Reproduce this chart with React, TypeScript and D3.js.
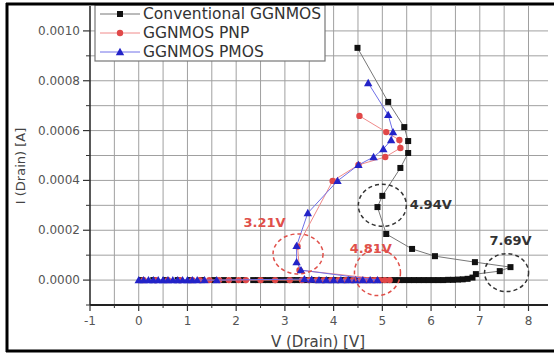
import React from "react";
import * as d3 from "d3";

// ---------- data ----------
const convV = [0.05, 0.3, 0.55, 0.8, 1.05, 1.3, 1.55, 1.75, 1.95, 2.15, 2.35, 2.45, 2.55, 2.65, 2.75, 2.85, 2.95, 3.05, 3.15, 3.25, 3.35, 3.45, 3.55, 3.65, 3.75, 3.85, 3.95, 4.05, 4.15, 4.25, 4.35, 4.45, 4.55, 4.65, 4.75, 4.85, 4.95, 5.05, 5.15, 5.25, 5.35, 5.45, 5.55, 5.65, 5.75, 5.85, 5.95, 6.05, 6.15, 6.25, 6.35, 6.45, 6.55, 6.65, 6.75, 6.85, 6.92, 7.41, 7.63, 6.9, 6.08, 5.61, 5.08, 4.9, 5.0, 5.37, 5.53, 5.53, 5.45, 5.12, 4.49];
const convI = [0, 0, 0, 0, 0, 0, 0, 0, 0, 0, 0, 0, 0, 0, 0, 0, 0, 0, 0, 0, 0, 0, 0, 0, 0, 0, 0, 0, 0, 0, 0, 0, 0, 0, 0, 0, 0, 0, 0, 0, 0, 0, 0, 0, 0, 0, 0, 0, 0, 0, 0.000001, 0.000001, 0.000002, 0.000003, 0.000005, 0.00001, 0.000024, 0.000036, 0.000052, 0.000072, 0.000096, 0.000125, 0.000185, 0.000293, 0.000338, 0.00045, 0.00051, 0.000558, 0.000614, 0.000715, 0.000932];

const pnpV = [0.1, 0.35, 0.6, 0.85, 1.1, 1.25, 1.45, 1.65, 1.85, 2.05, 2.2, 2.5, 2.8, 3.1, 3.35, 3.5, 3.65, 3.8, 3.95, 4.1, 4.25, 4.4, 4.55, 4.65, 4.75, 4.85, 4.95, 5.05, 5.15, 3.3, 3.26, 3.98, 4.51, 5.06, 5.37, 5.35, 5.08, 4.53];
const pnpI = [0, 0, 0, 0, 0, 0, 0, 0, 0, 0, 0, 0, 0, 0, 0, 0, 0, 0, 0, 0, 0, 0, 0, 0, 0, 0, 0, 0, 0, 0.00004, 0.000135, 0.000398, 0.000462, 0.000494, 0.00053, 0.000562, 0.000594, 0.000659];

const pmosV = [0.0, 0.1, 0.2, 0.3, 0.4, 0.5, 0.6, 0.7, 0.8, 0.9, 1.0, 1.1, 1.2, 1.35, 1.6, 3.4, 3.55, 3.7, 3.85, 4.0, 4.15, 4.3, 4.45, 4.6, 4.75, 4.9, 3.33, 3.24, 3.24, 3.47, 4.08, 4.51, 4.82, 5.02, 5.18, 5.22, 5.12, 4.71];
const pmosI = [0, 0, 0, 0, 0, 0, 0, 0, 0, 0, 0, 0, 0, 0, 0, 0.000004, 0.000002, 0, 0, 0, 0, 0, 0, 0, 0, 0, 0.00004, 0.000072, 0.000137, 0.000269, 0.000398, 0.000462, 0.000494, 0.000526, 0.000562, 0.000594, 0.000663, 0.000791];

const seriesNames = ["Conventional GGNMOS", "GGNMOS PNP", "GGNMOS PMOS"];
const xTicks = [-1, 0, 1, 2, 3, 4, 5, 6, 7, 8];
const yTicks = [0, 0.0002, 0.0004, 0.0006, 0.0008, 0.001];
const xMinor = [-0.5, 0.5, 1.5, 2.5, 3.5, 4.5, 5.5, 6.5, 7.5];
const yMinor = [-0.0001, 0.0001, 0.0003, 0.0005, 0.0007, 0.0009];

const annotations = [
  { text: "3.21V", v: 2.15, i: 0.000212, color: "#e0504a" },
  { text: "4.81V", v: 4.33, i: 0.000108, color: "#e0504a" },
  { text: "4.94V", v: 5.56, i: 0.000285, color: "#333" },
  { text: "7.69V", v: 7.2, i: 0.00014, color: "#333" },
];
const circles = [
  { v: 3.27, i: 0.000105, rx: 25, ry: 20, color: "#e0504a" },
  { v: 4.9, i: 0.00003, rx: 23, ry: 23, color: "#e0504a" },
  { v: 5.0, i: 0.0003, rx: 24, ry: 21, color: "#333" },
  { v: 7.55, i: 0.00003, rx: 22, ry: 19, color: "#333" },
];

// ---------- layout ----------
const W = 554, H = 353;
const x = d3.scaleLinear().domain([-1, 8.4]).range([90, 548]);
const y = d3.scaleLinear().domain([-0.0001, 0.0011]).range([305, 6]);

const FONT = "DejaVu Sans, Arial, sans-serif";

function Marker({ kind, cx, cy }: { kind: number; cx: number; cy: number }) {
  if (kind === 0) return <rect x={cx - 3} y={cy - 3} width={6} height={6} fill="#111" />;
  if (kind === 1) return <circle cx={cx} cy={cy} r={3.2} fill="#e04848" />;
  const s = 4.2;
  return <path d={`M${cx},${cy - s}L${cx + s},${cy + s * 0.75}L${cx - s},${cy + s * 0.75}Z`} fill="#2323c8" />;
}

export default function App() {
  const series = [
    { v: convV, i: convI, line: "#777", kind: 0 },
    { v: pnpV, i: pnpI, line: "#f08a8a", kind: 1 },
    { v: pmosV, i: pmosI, line: "#7070e8", kind: 2 },
  ];
  const lineGen = d3.line<[number, number]>().x((d) => x(d[0])).y((d) => y(d[1]));
  const gridX = d3.range(-0.5, 8.41, 0.5);
  const gridY = d3.range(1, 12).map((k) => k * 0.0001 - 0.0001).filter((v) => v > -0.00005);

  return (
    <svg width={W} height={H} style={{ position: "absolute", left: 0, top: 0, background: "#fff" }}>
      <rect x={0} y={0} width={W} height={H} fill="#fff" />
      {/* grid */}
      {gridX.map((g) => (
        <line key={"gx" + g} x1={x(g)} x2={x(g)} y1={y(0.0011)} y2={y(-0.0001)} stroke="#a0a0a0" strokeWidth={1} />
      ))}
      {gridY.map((g) => (
        <line key={"gy" + g} x1={x(-1)} x2={x(8.4)} y1={y(g)} y2={y(g)} stroke="#a0a0a0" strokeWidth={1} />
      ))}
      {/* axes */}
      <line x1={x(-1)} x2={x(-1)} y1={y(0.0011)} y2={y(-0.0001)} stroke="#222" strokeWidth={1.5} />
      <line x1={x(-1)} x2={x(8.4)} y1={y(-0.0001)} y2={y(-0.0001)} stroke="#222" strokeWidth={2} />
      {yTicks.map((t) => (
        <g key={"yt" + t}>
          <line x1={x(-1) - 7} x2={x(-1)} y1={y(t)} y2={y(t)} stroke="#333" strokeWidth={1.2} />
          <text x={x(-1) - 10} y={y(t) + 4} textAnchor="end" fontFamily={FONT} fontSize={12} fill="#555">
            {t.toFixed(4)}
          </text>
        </g>
      ))}
      {yMinor.map((t) => (
        <line key={"ym" + t} x1={x(-1) - 4} x2={x(-1)} y1={y(t)} y2={y(t)} stroke="#333" strokeWidth={1} />
      ))}
      {xTicks.map((t) => (
        <g key={"xt" + t}>
          <line x1={x(t)} x2={x(t)} y1={y(-0.0001)} y2={y(-0.0001) + 6} stroke="#333" strokeWidth={1.2} />
          <text x={x(t)} y={y(-0.0001) + 20} textAnchor="middle" fontFamily={FONT} fontSize={12} fill="#555">
            {t}
          </text>
        </g>
      ))}
      {xMinor.map((t) => (
        <line key={"xm" + t} x1={x(t)} x2={x(t)} y1={y(-0.0001)} y2={y(-0.0001) + 3} stroke="#333" strokeWidth={1} />
      ))}
      <text x={318} y={347} textAnchor="middle" fontFamily={FONT} fontSize={15} fill="#444">
        V (Drain) [V]
      </text>
      <text transform="translate(25,166) rotate(-90)" textAnchor="middle" fontFamily={FONT} fontSize={13} fill="#444">
        I (Drain) [A]
      </text>
      {/* series */}
      {series.map((s, si) => {
        const pts = s.v.map((v, k) => [v, s.i[k]] as [number, number]);
        return (
          <g key={"s" + si}>
            <path d={lineGen(pts) || ""} fill="none" stroke={s.line} strokeWidth={1} />
            {pts.map((p, k) => (
              <Marker key={k} kind={s.kind} cx={x(p[0])} cy={y(p[1])} />
            ))}
          </g>
        );
      })}
      {/* annotations */}
      {circles.map((c, k) => (
        <ellipse key={"c" + k} cx={x(c.v)} cy={y(c.i)} rx={c.rx} ry={c.ry} fill="none" stroke={c.color} strokeWidth={1.5} strokeDasharray="4,3" />
      ))}
      {annotations.map((a, k) => (
        <text key={"a" + k} x={x(a.v)} y={y(a.i)} fontFamily={FONT} fontWeight="bold" fontSize={13} fill={a.color}>
          {a.text}
        </text>
      ))}
      {/* legend */}
      <rect x={95} y={5} width={230} height={56} fill="#fff" stroke="#777" strokeWidth={1.2} />
      {seriesNames.map((n, k) => {
        const ly = 14 + k * 19;
        const s = series[k];
        return (
          <g key={"l" + k}>
            <line x1={100} x2={140} y1={ly} y2={ly} stroke={s.line} strokeWidth={1} />
            <Marker kind={s.kind} cx={120} cy={ly} />
            <text x={143} y={ly + 5} fontFamily={FONT} fontSize={15.5} fill="#333">
              {n}
            </text>
          </g>
        );
      })}
      {/* outer frame */}
      <line x1={7} x2={7} y1={3} y2={352} stroke="#000" strokeWidth={3} />
      <line x1={6} x2={W} y1={4} y2={4} stroke="#000" strokeWidth={3} />
      <line x1={6} x2={W} y1={351} y2={351} stroke="#000" strokeWidth={3} />
    </svg>
  );
}
